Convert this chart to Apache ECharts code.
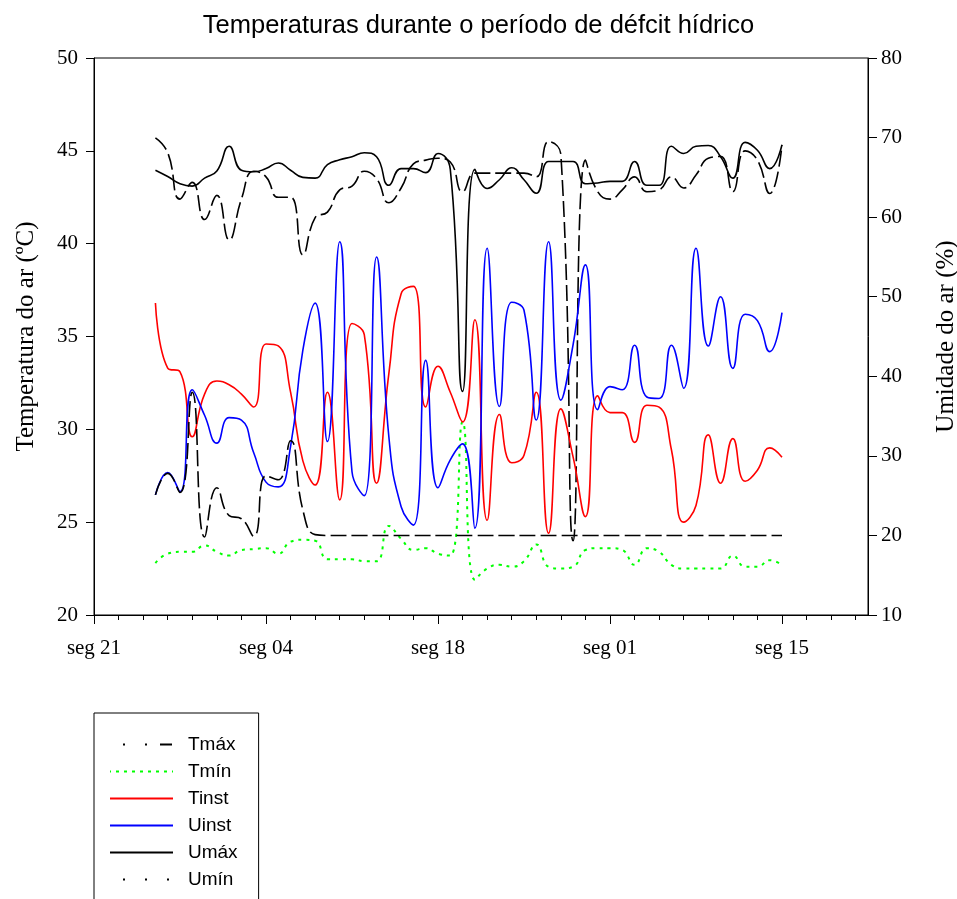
<!DOCTYPE html>
<html><head><meta charset="utf-8">
<script src="https://cdn.jsdelivr.net/npm/echarts@6/dist/echarts.min.js"></script>
<style>html,body{margin:0;padding:0;background:#fff}#c{width:957px;height:899px}</style>
</head><body><div id="c"></div>
<script>
// day index: 0 = seg 21 (Monday)
const days = [5,6,7,8,9,10,11,12,13,14,15,16,17,18,19,20,21,22,23,24,25,26,27,28,29,30,31,32,33,34,35,36,37,38,39,40,41,42,43,44,45,46,47,48,49,50,51,52,53,54,55,56];
const tmax = [45.7,44.9,42.4,43.3,41.3,42.6,40.2,42.4,43.9,43.6,42.5,42.5,39.4,41.4,41.7,42.9,43.1,43.9,43.5,42.2,43.0,44.3,44.5,44.6,44.4,42.8,43.8,43.8,43.8,43.8,43.8,43.6,45.5,44.8,24.0,44.5,42.8,42.4,42.9,43.6,42.8,42.9,43.6,43.0,43.7,44.6,44.7,42.8,45.0,44.5,42.7,45.3];
const tmin = [22.8,23.3,23.4,23.4,23.75,23.4,23.2,23.5,23.55,23.6,23.3,23.95,24.05,24.0,23.0,23.0,23.0,22.9,22.9,24.8,24.1,23.5,23.6,23.3,23.2,30.4,21.9,22.5,22.7,22.6,22.9,23.8,22.6,22.5,22.6,23.5,23.6,23.6,23.5,22.7,23.6,23.4,22.7,22.5,22.5,22.5,22.5,23.2,22.6,22.6,22.95,22.7];
const tinst = [36.8,33.3,33.1,29.6,31.9,32.6,32.4,31.9,31.2,34.6,34.5,32.0,28.3,27.0,32.0,26.2,35.7,35.1,27.1,33.0,37.3,37.7,31.2,33.4,32.0,30.4,35.9,25.1,30.8,28.2,28.6,32.0,24.4,31.1,28.5,25.3,31.8,30.9,30.9,29.3,31.3,31.2,28.9,25.0,25.9,29.7,27.1,29.5,27.2,27.8,29.0,28.5];
const uinst = [25.1,27.9,25.5,38.3,35.1,31.6,34.8,34.5,30.4,26.7,26.1,31.2,43.3,49.2,31.8,56.9,28.0,25.0,55.0,32.4,23.6,21.3,42.0,26.0,29.5,31.5,20.9,56.1,36.2,49.3,48.3,34.5,56.9,37.0,44.0,54.0,35.8,38.7,38.3,43.9,37.4,37.2,43.9,38.5,56.1,43.8,50.0,41.0,47.8,47.0,43.1,48.0];
const umax = [65.9,65.1,64.2,63.9,64.9,65.8,68.9,65.9,65.7,66.1,66.8,65.9,65.0,64.9,66.6,67.2,67.6,68.1,67.6,64.0,66.1,66.1,65.6,68.0,66.0,38.1,66.0,63.6,64.7,66.2,64.7,63.0,67.0,67.0,67.0,64.2,64.3,64.5,64.5,67.0,64.0,64.0,68.9,68.0,68.9,69.0,67.6,64.9,69.4,68.4,66.1,69.1];
const umin = [25.1,27.8,25.4,38.0,19.8,26.0,22.5,22.1,19.9,27.5,27.0,31.9,23.2,20.1,20.0,20.0,20.0,20.0,20.0,20.0,20.0,20.0,20.0,20.0,20.0,20.0,20.0,20.0,20.0,20.0,20.0,20.0,20.0,20.0,20.0,20.0,20.0,20.0,20.0,20.0,20.0,20.0,20.0,20.0,20.0,20.0,20.0,20.0,20.0,20.0,20.0,20.0];
const xTickDays = [0,14,28,42,56];
const xTickLabels = ['seg 21','seg 04','seg 18','seg 01','seg 15'];
const xMinorTickDays = [0,2,4,6,8,10,12,14,16,18,20,22,24,26,28,30,32,34,36,38,40,42,44,46,48,50,52,54,56,58,60,62];

const pairs = vals => days.map((d,i)=>[d, vals[i]]);
const serif = 'Liberation Serif';
const sans = 'Liberation Sans';

function lineSeries(name, vals, yIdx, color, type, width){
  return {name, type:'line', xAxisIndex:0, yAxisIndex:yIdx, data:pairs(vals), smooth:0.5,
    symbol:'none', showSymbol:false, itemStyle:{color},
    lineStyle:{color, width, type}, emphasis:{disabled:true}};
}

const chart = echarts.init(document.getElementById('c'), null, {renderer:'canvas'});
chart.setOption({
  animation:false,
  backgroundColor:'#fff',
  title:{text:'Temperaturas durante o período de défcit hídrico', left:'center', top:8,
    textStyle:{fontFamily:sans, fontSize:25.5, fontWeight:'normal', color:'#000'}},
  grid:{left:94, right:89, top:58, bottom:284, show:true, borderColor:'#000', borderWidth:1,
    backgroundColor:'transparent', containLabel:false, outerBoundsMode:'none'},
  legend:{orient:'vertical', left:94, top:713, height:170, padding:[22,21,30,15], itemWidth:63, itemHeight:14, itemGap:8,
    borderColor:'#000', borderWidth:1, selectedMode:false,
    itemStyle:{opacity:0, borderWidth:0},
    textStyle:{fontFamily:sans, fontSize:19, color:'#000', padding:[0,0,0,10]},
    data:[
      {name:'Tmáx', lineStyle:{type:[2,20,2,13,12,14], dashOffset:50}},
      {name:'Tmín'},
      {name:'Tinst'},
      {name:'Uinst'},
      {name:'Umáx'},
      {name:'Umín', lineStyle:{type:[2,20], dashOffset:9}}
    ]},
  xAxis:[
    {type:'value', min:0, max:63, interval:14, position:'bottom',
      axisLine:{show:true, onZero:false, lineStyle:{color:'#000', width:1}},
      axisTick:{show:true, customValues:xTickDays, length:9, lineStyle:{color:'#000', width:1}},
      axisLabel:{customValues:xTickDays, formatter:v=>{const i=xTickDays.indexOf(v);return i>=0?xTickLabels[i]:'';},
        fontFamily:serif, fontSize:21, color:'#000', margin:23},
      splitLine:{show:false}},
    {type:'value', min:0, max:63, interval:2, position:'bottom',
      axisLine:{show:false, onZero:false},
      axisTick:{show:true, customValues:xMinorTickDays, length:5, lineStyle:{color:'#000', width:1}},
      axisLabel:{show:false}, splitLine:{show:false}}
  ],
  yAxis:[
    {type:'value', min:20, max:50, interval:5, position:'left',
      name:'Temperatura do ar (ºC)', nameLocation:'middle', nameGap:55, nameRotate:90,
      nameTextStyle:{fontFamily:serif, fontSize:25, color:'#000'},
      axisLine:{show:true, onZero:false, lineStyle:{color:'#000', width:1}},
      axisTick:{show:true, length:8, lineStyle:{color:'#000'}},
      axisLabel:{fontFamily:serif, fontSize:21, color:'#000', margin:16},
      splitLine:{show:false}},
    {type:'value', min:10, max:80, interval:10, position:'right',
      name:'Umidade do ar (%)', nameLocation:'middle', nameGap:66, nameRotate:90,
      nameTextStyle:{fontFamily:serif, fontSize:25, color:'#000'},
      axisLine:{show:true, onZero:false, lineStyle:{color:'#000', width:1}},
      axisTick:{show:true, length:9, lineStyle:{color:'#000'}},
      axisLabel:{fontFamily:serif, fontSize:21, color:'#000', margin:13},
      splitLine:{show:false}}
  ],
  series:[
    lineSeries('Tmáx', tmax, 0, '#000', [16,5], 1.6),
    lineSeries('Tmín', tmin, 0, '#00ff00', [3,5], 2),
    lineSeries('Tinst', tinst, 0, '#ff0000', 'solid', 1.6),
    lineSeries('Uinst', uinst, 1, '#0000ff', 'solid', 1.6),
    lineSeries('Umáx', umax, 1, '#000', 'solid', 1.6),
    lineSeries('Umín', umin, 1, '#000', [16,5], 1.6)
  ]
});
</script></body></html>
